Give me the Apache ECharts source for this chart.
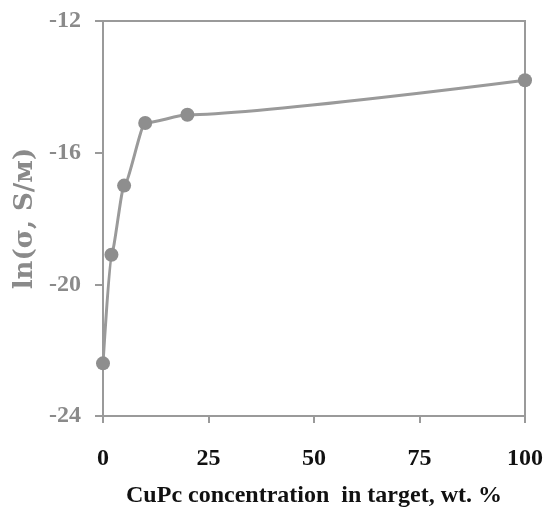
<!DOCTYPE html>
<html><head><meta charset="utf-8">
<script src="https://cdn.jsdelivr.net/npm/echarts@6/dist/echarts.min.js"></script>
<style>html,body{margin:0;padding:0;background:#fff}#c{width:548px;height:513px}</style>
</head><body><div id="c"></div>
<script>
const concentration = [0, 2, 5, 10, 20, 100];
const lnSigma = [-22.4, -19.1, -17.0, -15.1, -14.85, -13.8];
const xTicks = [0, 25, 50, 75, 100];
const yTicks = [-24, -20, -16, -12];
const xTitle = 'CuPc concentration  in target, wt. %';
const yTitle = 'ln(σ, S/м)';

const chart = echarts.init(document.getElementById('c'));
const serif = '"Liberation Serif", "Times New Roman", serif';
const gray = '#9a9a9a';
chart.setOption({
  animation: false,
  grid: {left: 103, right: 23, top: 21, bottom: 90, show: true, borderColor: gray, borderWidth: 2, backgroundColor: 'transparent'},
  xAxis: {
    type: 'value', min: xTicks[0], max: xTicks[xTicks.length - 1], interval: 25,
    axisLine: {show: true, onZero: false, lineStyle: {color: gray, width: 2}},
    axisTick: {show: true, length: 7, lineStyle: {color: gray, width: 2}},
    splitLine: {show: false},
    axisLabel: {color: '#111', fontFamily: serif, fontWeight: 'bold', fontSize: 24, margin: 31},
    name: xTitle, nameLocation: 'middle', nameGap: 68,
    nameTextStyle: {color: '#111', fontFamily: serif, fontWeight: 'bold', fontSize: 24}
  },
  yAxis: {
    type: 'value', min: yTicks[0], max: yTicks[yTicks.length - 1], interval: 4,
    axisLine: {show: true, onZero: false, lineStyle: {color: gray, width: 2}},
    axisTick: {show: true, length: 8, lineStyle: {color: gray, width: 2}},
    splitLine: {show: false},
    axisLabel: {color: '#8a8a8a', fontFamily: serif, fontWeight: 'bold', fontSize: 24, margin: 22},
    name: yTitle, nameLocation: 'middle', nameGap: 60, nameRotate: 90,
    nameTextStyle: {color: '#8a8a8a', fontFamily: '"DejaVu Serif", serif', fontWeight: 'bold', fontSize: 26}
  },
  series: [{
    type: 'line',
    data: concentration.map((x, i) => [x, lnSigma[i]]),
    smooth: 0.2, smoothMonotone: 'x',
    symbol: 'circle', symbolSize: 14,
    lineStyle: {color: gray, width: 3},
    itemStyle: {color: '#8e8e8e'}
  }]
});
</script></body></html>
